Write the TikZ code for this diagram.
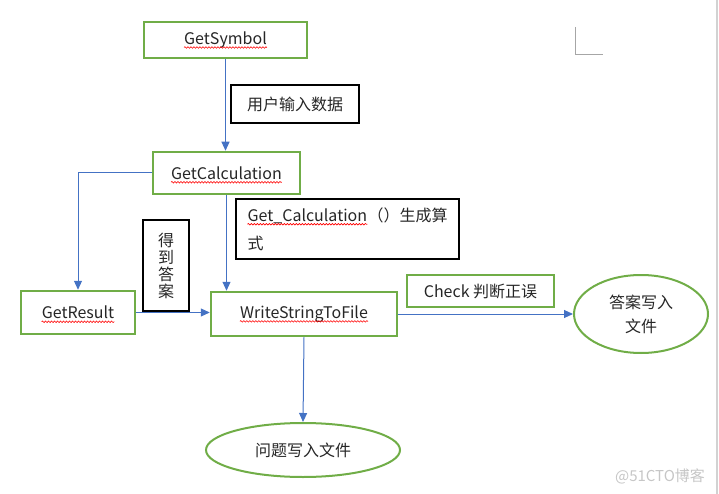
\documentclass[tikz,border=0pt]{standalone}
\usepackage{fontspec}
\setmainfont{Noto Sans CJK SC}
\usetikzlibrary{arrows.meta}
\usetikzlibrary{shapes.geometric}
\usetikzlibrary{positioning}
\usetikzlibrary{decorations.pathmorphing}

\definecolor{boxgreen}{HTML}{70AD47}
\definecolor{flowblue}{HTML}{4472C4}

\begin{document}
\begin{tikzpicture}[
    x=1pt,y=-1pt,
    every node/.style={font=\fontsize{16}{20}\selectfont,text=black!85},
    func/.style={draw=boxgreen,line width=2.5pt,inner sep=0pt},
    note/.style={draw=black,line width=1.2pt,inner sep=0pt},
    oval/.style={ellipse,draw=boxgreen,line width=2pt,inner sep=0pt},
    word/.style={inner sep=0pt},
    spell/.style={draw=red,line width=0.6pt,decorate,
      decoration={snake,segment length=3pt,amplitude=0.8pt}},
    flow/.style={draw=flowblue,line width=1pt,-{Triangle[length=9pt,width=8pt]}}
    ]
    \useasboundingbox (0,0) rectangle (719,494);
    % page marks
    \draw[gray!70,line width=1pt] (575,27) -- (575,55) -- (603,55);
    \draw[gray!35,line width=1.5pt] (717,0) -- (717,494);
    % functions
    \node[func,minimum width=163pt,minimum height=36pt] (gsym) at (225.5,40) {};
    \node[word] (gsymtxt) at (gsym) {GetSymbol};
    \node[func,minimum width=147pt,minimum height=42pt] (gcalc) at (226.5,173) {};
    \node[word] (gcalctxt) at (gcalc) {GetCalculation};
    \node[func,minimum width=114pt,minimum height=43pt] (gres) at (78,312.5) {};
    \node[word] (grestxt) at (gres) {GetResult};
    \node[func,minimum width=186pt,minimum height=44pt] (wfile) at (304,314) {};
    \node[word] (wfiletxt) at (wfile) {WriteStringToFile};
    \node[func,minimum width=147pt,minimum height=32pt] (chk) at (480.5,291) {Check 判断正误};
    % files
    \node[oval,minimum width=134pt,minimum height=78pt,align=center,
      font=\fontsize{16}{24}\selectfont] (ansfile) at (641,314) {答案写入\\文件};
    \node[oval,minimum width=194pt,minimum height=54pt] (qfile) at (303,450) {问题写入文件};
    % notes
    \node[note,minimum width=128pt,minimum height=38pt] (input) at (295,104) {用户输入数据};
    \node[note,minimum width=223pt,minimum height=60pt] (gen) at (347.5,229) {};
    \node[word,anchor=west] (gentxt) at ([xshift=12pt,yshift=13pt]gen.west) {Get\_Calculation};
    \node[word,anchor=base west] (gentxtb) at (gentxt.base east) {（）生成算};
    \node[word,anchor=west] (gentxtc) at ([xshift=12pt,yshift=-14pt]gen.west) {式};
    \node[note,minimum width=46pt,minimum height=91pt,align=center,
      font=\fontsize{16}{17}\selectfont] (answer) at (166,265.5) {得\\到\\答\\案};
    % spelling marks
    \foreach \t in {gsymtxt,gcalctxt,grestxt,wfiletxt,gentxt}
      \draw[spell] ([yshift=-3pt]\t.base west) -- ([yshift=-3pt]\t.base east);
    % flow
    \draw[flow] (gsym.south) -- (gsym.south |- gcalc.north);
    \draw[flow] (gcalc.west) -| (gres.north);
    \draw[flow] (gcalc.south) -- (gcalc.south |- wfile.north);
    \draw[flow] (gres.east) -- (gres.east -| wfile.west);
    \draw[flow] (wfile.east) -- (ansfile.west);
    \draw[flow] (wfile.south) -- (qfile.north);
    % watermark
    \node[text=gray!45,font=\fontsize{15}{17}\selectfont] (wmark) at (660,476) {@51CTO博客};
\end{tikzpicture}
\end{document}
